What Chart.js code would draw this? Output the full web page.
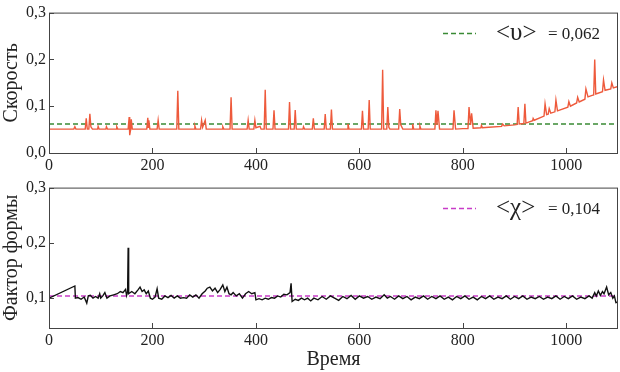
<!DOCTYPE html>
<html>
<head>
<meta charset="utf-8">
<script src="https://cdn.jsdelivr.net/npm/chart.js@4"></script>
<style>
  body { margin: 0; background: #fff; }
  #wrap { position: relative; width: 620px; height: 372px; }
  #speedChart { position: absolute; left: 0; top: 0; }
  #shapeChart { position: absolute; left: 0; top: 175px; }
</style>
</head>
<body>
<div id="wrap">
  <canvas id="speedChart" width="620" height="175"></canvas>
  <canvas id="shapeChart" width="620" height="197"></canvas>
</div>
<script>
// tick labels
const xTicks = [0, 200, 400, 600, 800, 1000];
const speedYTicks = [0, 0.1, 0.2, 0.3];
const shapeYTicks = [0.1, 0.2, 0.3];

// mean values
const meanSpeed = 0.062;
const meanShape = 0.104;

// speed series (time, value)
const speedT = [
  0, 48, 50, 52, 70, 72, 74, 77, 79, 81, 84, 94, 95, 97, 110, 111, 113, 130, 131, 133,
  153, 155, 156, 158, 159, 161, 189, 191, 192, 193, 195, 209, 211, 213, 247, 249, 251,
  281, 282, 284, 293, 295, 297, 302, 304, 335, 336, 338, 350, 352, 354, 383, 385, 387,
  396, 398, 400, 408, 410, 416, 418, 420, 433, 435, 437, 463, 465, 467, 474, 476, 478,
  491, 492, 494, 509, 511, 513, 532, 534, 536, 544, 546, 548, 577, 578, 580,
  604, 606, 608, 617, 619, 621, 643, 645, 647, 653, 655, 657, 659, 676, 678, 680, 684,
  702, 703, 705, 716, 717, 719, 746, 748, 750, 752, 755, 781, 783, 786,
  800, 810, 812, 815, 817, 820, 835, 836, 838, 850, 875, 877, 880, 900,
  905, 907, 909, 918, 920, 922, 935, 936, 938, 957, 959, 962, 965, 967, 970,
  978, 980, 983, 1003, 1005, 1008, 1020, 1022, 1025, 1036, 1038, 1042, 1050,
  1053, 1055, 1057, 1070, 1072, 1075, 1086, 1088, 1091, 1100
];
const speedV = [
  0.051, 0.051, 0.056, 0.051, 0.051, 0.074, 0.051, 0.051, 0.084, 0.056, 0.051, 0.051, 0.057, 0.051, 0.051, 0.056, 0.051, 0.051, 0.056, 0.051,
  0.051, 0.077, 0.038, 0.051, 0.072, 0.051, 0.051, 0.075, 0.055, 0.070, 0.051, 0.051, 0.070, 0.051, 0.051, 0.133, 0.051,
  0.051, 0.058, 0.051, 0.051, 0.070, 0.055, 0.070, 0.051, 0.051, 0.056, 0.051, 0.051, 0.119, 0.051, 0.051, 0.070, 0.051,
  0.051, 0.070, 0.054, 0.057, 0.051, 0.051, 0.135, 0.051, 0.051, 0.091, 0.051, 0.051, 0.109, 0.051, 0.051, 0.092, 0.051,
  0.051, 0.056, 0.051, 0.051, 0.074, 0.051, 0.051, 0.083, 0.051, 0.051, 0.093, 0.051, 0.051, 0.062, 0.051,
  0.051, 0.090, 0.051, 0.051, 0.113, 0.051, 0.051, 0.178, 0.051, 0.051, 0.098, 0.055, 0.051, 0.051, 0.094, 0.060, 0.051,
  0.051, 0.062, 0.051, 0.051, 0.058, 0.051, 0.051, 0.091, 0.060, 0.090, 0.051, 0.051, 0.091, 0.051,
  0.052, 0.052, 0.098, 0.060, 0.085, 0.053, 0.054, 0.059, 0.054, 0.055, 0.057, 0.062, 0.058, 0.060,
  0.061, 0.098, 0.062, 0.063, 0.105, 0.064, 0.069, 0.074, 0.070, 0.079, 0.105, 0.082, 0.083, 0.095, 0.085,
  0.088, 0.113, 0.090, 0.098, 0.110, 0.100, 0.107, 0.119, 0.109, 0.115, 0.137, 0.120, 0.123,
  0.124, 0.200, 0.126, 0.131, 0.156, 0.134, 0.137, 0.150, 0.139, 0.142
];

// shape factor series (time, value)
const shapeT = [
  0, 50, 51, 56, 62, 68, 73, 76, 80, 85, 90, 95, 98, 100, 104, 108, 112, 118, 125, 132,
  138, 143, 148, 150, 152, 153, 154, 160, 166, 172, 176, 180, 184, 188, 192, 196, 200, 205,
  209, 212, 218, 224, 230, 236, 242, 248, 254, 260, 266, 272, 278, 284, 290, 296, 302, 306,
  311, 316, 321, 326, 331, 336, 340, 344, 348, 352, 356, 362, 368, 374, 380, 386, 392, 398,
  400, 406, 412, 418, 424, 430, 436, 442, 448, 454, 460, 466, 468, 470, 476, 482, 488, 494,
  500, 506, 512, 520, 528, 536, 544, 552, 560, 568, 576, 584, 592, 600, 608, 616, 624, 632,
  640, 648, 654, 660, 668, 676, 684, 692, 700, 708, 716, 724, 732, 740, 748, 756, 764, 772,
  780, 788, 796, 804, 812, 820, 828, 836, 844, 852, 860, 868, 876, 884, 892, 900, 908, 916,
  924, 932, 940, 948, 956, 964, 972, 980, 988, 996, 1004, 1012, 1020, 1028, 1036, 1044, 1050,
  1055, 1058, 1062, 1066, 1070, 1073, 1078, 1082, 1086, 1090, 1093, 1096, 1100
];
const shapeV = [
  0.100, 0.122, 0.100, 0.101, 0.098, 0.102, 0.091, 0.104, 0.105, 0.100, 0.103, 0.100, 0.108, 0.100, 0.104, 0.110, 0.100, 0.104, 0.106, 0.108,
  0.112, 0.110, 0.116, 0.105, 0.112, 0.191, 0.108, 0.112, 0.108, 0.115, 0.120, 0.112, 0.115, 0.108, 0.113, 0.100, 0.098, 0.102,
  0.117, 0.100, 0.098, 0.104, 0.101, 0.105, 0.100, 0.104, 0.100, 0.101, 0.100, 0.106, 0.102, 0.106, 0.100, 0.108, 0.113, 0.118,
  0.120, 0.113, 0.118, 0.110, 0.116, 0.124, 0.112, 0.120, 0.108, 0.106, 0.110, 0.104, 0.108, 0.100, 0.108, 0.112, 0.108, 0.110,
  0.097, 0.099, 0.097, 0.100, 0.098, 0.101, 0.100, 0.104, 0.102, 0.107, 0.106, 0.110, 0.127, 0.094, 0.098, 0.096, 0.100, 0.097,
  0.100, 0.095, 0.100, 0.097, 0.103, 0.098, 0.104, 0.100, 0.096, 0.103, 0.099, 0.105, 0.098, 0.104, 0.100, 0.103, 0.098, 0.102,
  0.099, 0.106, 0.100, 0.103, 0.098, 0.104, 0.099, 0.103, 0.097, 0.102, 0.099, 0.104, 0.098, 0.103, 0.099, 0.104, 0.098, 0.102,
  0.097, 0.103, 0.099, 0.104, 0.098, 0.102, 0.097, 0.103, 0.099, 0.104, 0.098, 0.102, 0.099, 0.104, 0.098, 0.103, 0.099, 0.104,
  0.098, 0.102, 0.099, 0.103, 0.098, 0.102, 0.099, 0.104, 0.098, 0.103, 0.099, 0.104, 0.098, 0.102, 0.099, 0.104, 0.100,
  0.110, 0.104, 0.113, 0.105, 0.112, 0.108, 0.120, 0.106, 0.110, 0.100, 0.104, 0.092, 0.093
];

const FONT = "'Liberation Serif', 'DejaVu Serif', serif";
const TEXT_COLOR = '#222';
const AXIS_COLOR = '#444';

function toPoints(xs, ys) {
  return xs.map((x, i) => ({ x: x, y: ys[i] }));
}

// frame + inward tick marks
const frameTicks = {
  id: 'frameTicks',
  afterDraw(chart) {
    const { ctx, chartArea: a } = chart;
    const xs = chart.scales.x, ys = chart.scales.y;
    ctx.save();
    ctx.strokeStyle = AXIS_COLOR;
    ctx.lineWidth = 1;
    ctx.strokeRect(a.left + 0.5, a.top + 0.5, a.right - a.left - 1, a.bottom - a.top);
    ctx.beginPath();
    xs.ticks.forEach(t => {
      const px = Math.round(xs.getPixelForValue(t.value)) + 0.5;
      ctx.moveTo(px, a.bottom);
      ctx.lineTo(px, a.bottom - 5);
    });
    ys.ticks.forEach(t => {
      const py = Math.round(ys.getPixelForValue(t.value)) + 0.5;
      ctx.moveTo(a.left, py);
      ctx.lineTo(a.left + 5, py);
    });
    ctx.stroke();
    ctx.restore();
  }
};

// dashed sample + "<sym> = value" label
const meanLegend = {
  id: 'meanLegend',
  afterDraw(chart, args, opts) {
    if (!opts || !opts.symbol) return;
    const ctx = chart.ctx;
    const y = chart.chartArea.top + 21;
    ctx.save();
    ctx.strokeStyle = opts.color;
    ctx.lineWidth = 1.5;
    ctx.setLineDash([5, 3]);
    ctx.beginPath();
    ctx.moveTo(443, y);
    ctx.lineTo(476, y);
    ctx.stroke();
    ctx.setLineDash([]);
    ctx.fillStyle = TEXT_COLOR;
    ctx.textBaseline = 'middle';
    ctx.textAlign = 'left';
    ctx.font = '25px ' + FONT;
    ctx.fillText(opts.symbol, 496, y);
    ctx.font = '17px ' + FONT;
    ctx.fillText('= ' + opts.value.toFixed(3).replace('.', ','), 548, y + 1);
    ctx.restore();
  }
};

function buildOptions(yMin, yTicks, yTitle, xTitle, legendOpts) {
  return {
    responsive: false,
    animation: false,
    layout: { padding: { top: 9, right: 2, left: 0, bottom: 0 } },
    plugins: {
      legend: { display: false },
      tooltip: { enabled: false },
      meanLegend: legendOpts
    },
    elements: { point: { radius: 0 }, line: { tension: 0 } },
    scales: {
      x: {
        type: 'linear',
        min: 0,
        max: 1100,
        grid: { display: false, drawTicks: false },
        border: { display: false },
        afterBuildTicks: s => { s.ticks = xTicks.map(v => ({ value: v })); },
        afterFit: s => { s.height = xTitle ? 44 : 22; },
        ticks: {
          color: TEXT_COLOR,
          font: { family: FONT, size: 16 },
          padding: 3,
          maxRotation: 0,
          callback: v => String(v)
        },
        title: {
          display: !!xTitle,
          text: xTitle || '',
          color: TEXT_COLOR,
          font: { family: FONT, size: 20 },
          padding: 0
        }
      },
      y: {
        min: yMin,
        max: 0.3,
        grid: { display: false, drawTicks: false },
        border: { display: false },
        afterBuildTicks: s => { s.ticks = yTicks.map(v => ({ value: v })); },
        afterFit: s => { s.width = 49; },
        ticks: {
          color: TEXT_COLOR,
          font: { family: FONT, size: 16 },
          padding: 3,
          callback: v => v.toFixed(1).replace('.', ',')
        },
        title: {
          display: true,
          text: yTitle,
          color: TEXT_COLOR,
          font: { family: FONT, size: 20 },
          padding: 0
        }
      }
    }
  };
}

new Chart(document.getElementById('speedChart'), {
  type: 'line',
  data: {
    datasets: [
      {
        data: toPoints(speedT, speedV),
        borderColor: '#ee5a3c',
        borderWidth: 1.4
      },
      {
        data: [{ x: 0, y: meanSpeed }, { x: 1100, y: meanSpeed }],
        borderColor: '#3a8a35',
        borderWidth: 1.4,
        borderDash: [5, 3]
      }
    ]
  },
  options: buildOptions(0, speedYTicks, 'Скорость', null,
    { symbol: '<υ>', value: meanSpeed, color: '#3a8a35' }),
  plugins: [frameTicks, meanLegend]
});

new Chart(document.getElementById('shapeChart'), {
  type: 'line',
  data: {
    datasets: [
      {
        data: toPoints(shapeT, shapeV),
        borderColor: '#111',
        borderWidth: 1.4
      },
      {
        data: [{ x: 0, y: meanShape }, { x: 1100, y: meanShape }],
        borderColor: '#c83cc8',
        borderWidth: 1.4,
        borderDash: [5, 3]
      }
    ]
  },
  options: buildOptions(0.046, shapeYTicks, 'Фактор формы', 'Время',
    { symbol: '<χ>', value: meanShape, color: '#c83cc8' }),
  plugins: [frameTicks, meanLegend]
});
</script>
</body>
</html>
